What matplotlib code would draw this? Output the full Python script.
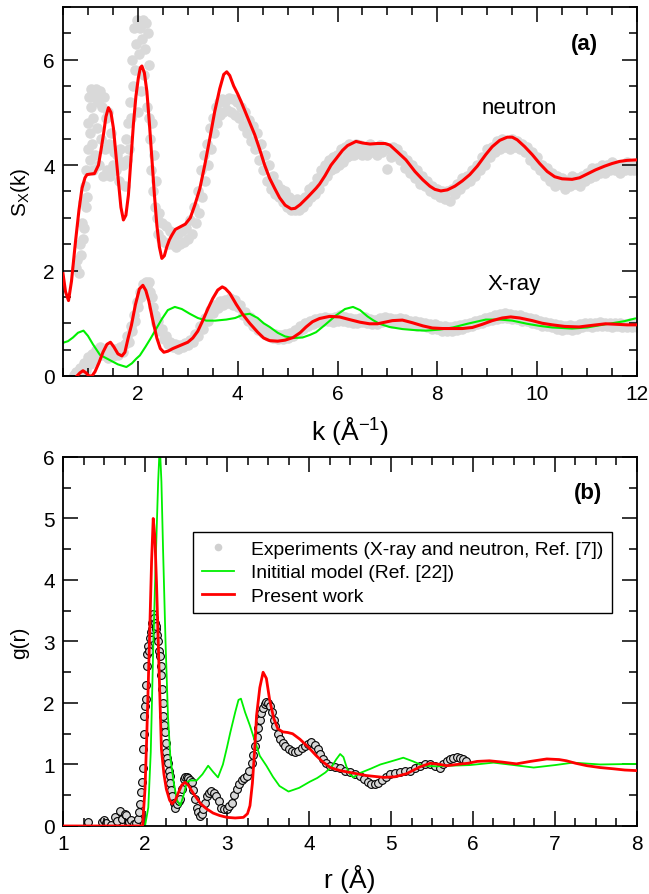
import numpy as np
import matplotlib
matplotlib.use('Agg')
import matplotlib.pyplot as plt
from matplotlib.lines import Line2D
from matplotlib.ticker import MultipleLocator

plt.rcParams['font.family'] = ['Liberation Sans', 'DejaVu Sans']
plt.rcParams['mathtext.fontset'] = 'custom'
plt.rcParams['mathtext.rm'] = 'Liberation Sans'
plt.rcParams['mathtext.it'] = 'Liberation Sans:italic'

RED = '#ff0000'
GREEN = '#00f000'
GREY = '#d9d9d9'

# ---------------------------------------------------------------------------
# (a) structure factors, (k, S) pairs
# ---------------------------------------------------------------------------
neutron_exp = [
    (0.76, 2.05), (0.79, 2.2), (0.82, 1.95), (0.84, 2.5), (0.86, 2.3), (0.88, 2.9),
    (0.90, 2.6), (0.91, 3.3), (0.93, 2.8), (0.94, 3.6), (0.96, 3.2), (0.97, 3.9),
    (0.99, 3.4), (1.00, 4.3), (1.01, 4.8), (1.02, 5.3), (1.04, 4.1), (1.05, 4.6),
    (1.06, 5.1), (1.07, 5.45), (1.09, 4.4), (1.10, 3.9), (1.11, 4.9), (1.13, 5.3),
    (1.15, 4.2), (1.17, 5.45), (1.19, 4.7), (1.21, 5.2), (1.23, 4.0), (1.25, 5.4),
    (1.27, 4.5), (1.29, 5.1), (1.31, 3.8), (1.33, 5.3), (1.35, 4.3), (1.37, 4.9),
    (1.39, 3.9), (1.41, 5.0), (1.43, 4.4), (1.45, 3.8), (1.47, 4.6), (1.50, 4.0),
    (1.53, 4.25), (1.56, 3.9), (1.59, 4.2), (1.62, 3.7), (1.65, 4.3), (1.68, 4.05),
    (1.71, 4.0), (1.74, 3.6), (1.77, 4.5), (1.79, 4.1), (1.81, 4.8), (1.83, 4.3),
    (1.85, 5.2), (1.87, 4.9), (1.89, 6.0), (1.91, 5.5), (1.92, 6.6), (1.94, 5.8),
    (1.96, 6.3), (1.98, 6.75), (2.00, 5.0), (2.02, 6.1), (2.04, 6.6), (2.06, 5.4),
    (2.08, 6.4), (2.10, 6.75), (2.12, 5.7), (2.14, 6.2), (2.16, 6.7), (2.18, 5.1),
    (2.20, 6.5), (2.22, 5.9), (2.23, 4.9), (2.25, 4.5), (2.27, 3.9), (2.29, 4.8),
    (2.31, 3.5), (2.33, 4.2), (2.35, 3.2), (2.37, 3.7), (2.39, 3.0), (2.41, 2.7),
    (2.43, 3.1), (2.46, 2.6), (2.49, 2.9), (2.52, 2.55), (2.56, 2.85), (2.60, 2.5),
    (2.64, 2.75), (2.68, 2.5), (2.72, 2.65), (2.76, 2.45), (2.80, 2.7), (2.84, 2.5),
    (2.88, 2.75), (2.92, 2.55), (2.96, 2.8), (3.00, 2.6), (3.04, 2.95), (3.08, 2.7),
    (3.12, 3.2), (3.16, 2.9), (3.20, 3.5), (3.23, 3.1), (3.26, 3.9), (3.29, 3.4),
    (3.32, 4.2), (3.35, 3.7), (3.38, 4.4), (3.41, 4.0), (3.44, 4.7), (3.47, 4.3),
    (3.50, 4.9), (3.53, 4.6), (3.56, 5.1), (3.59, 4.8), (3.62, 5.2), (3.65, 4.95),
    (3.68, 5.25), (3.71, 5.0), (3.74, 5.2), (3.78, 5.05), (3.82, 5.28), (3.86, 5.0),
    (3.90, 5.25), (3.94, 4.95), (3.98, 5.2), (4.02, 4.9), (4.06, 5.1), (4.10, 4.75),
    (4.14, 5.0), (4.18, 4.6), (4.22, 4.85), (4.26, 4.45), (4.30, 4.75), (4.34, 4.3),
    (4.38, 4.6), (4.42, 4.1), (4.46, 4.4), (4.50, 3.9), (4.54, 4.2), (4.58, 3.7),
    (4.62, 4.0), (4.66, 3.55), (4.70, 3.8), (4.74, 3.45), (4.78, 3.65), (4.82, 3.4),
    (4.86, 3.55), (4.90, 3.3), (4.94, 3.5), (4.98, 3.2), (5.02, 3.4), (5.06, 3.15),
    (5.10, 3.3), (5.14, 3.15), (5.18, 3.35), (5.22, 3.15), (5.26, 3.3), (5.30, 3.2),
    (5.34, 3.4), (5.38, 3.3), (5.42, 3.55), (5.46, 3.4), (5.50, 3.6), (5.54, 3.45),
    (5.58, 3.75), (5.62, 3.55), (5.66, 3.9), (5.70, 3.7), (5.74, 4.0), (5.78, 3.8),
    (5.82, 4.1), (5.86, 3.9), (5.90, 4.15), (5.94, 3.95), (5.98, 4.2), (6.02, 4.0),
    (6.06, 4.3), (6.10, 4.05), (6.14, 4.35), (6.18, 4.15), (6.22, 4.4), (6.26, 4.2),
    (6.30, 4.35), (6.34, 4.2), (6.38, 4.4), (6.42, 4.25), (6.46, 4.38), (6.50, 4.2),
    (6.55, 4.35), (6.60, 4.2), (6.65, 4.4), (6.70, 4.25), (6.75, 4.35), (6.80, 4.2),
    (6.85, 4.38), (6.90, 4.25), (6.95, 4.35), (7.00, 3.92), (7.04, 4.3), (7.08, 4.15),
    (7.12, 4.35), (7.16, 4.2), (7.20, 4.3), (7.25, 4.1), (7.30, 4.2), (7.35, 3.95),
    (7.40, 4.1), (7.45, 3.85), (7.50, 4.0), (7.55, 3.75), (7.60, 3.9), (7.65, 3.65),
    (7.70, 3.8), (7.75, 3.6), (7.80, 3.7), (7.85, 3.5), (7.90, 3.6), (7.95, 3.45),
    (8.00, 3.55), (8.05, 3.4), (8.10, 3.5), (8.15, 3.35), (8.20, 3.5), (8.25, 3.32),
    (8.30, 3.55), (8.35, 3.45), (8.40, 3.65), (8.45, 3.55), (8.50, 3.75), (8.55, 3.65),
    (8.60, 3.8), (8.65, 3.7), (8.70, 3.9), (8.75, 3.8), (8.80, 4.0), (8.85, 3.9),
    (8.90, 4.15), (8.95, 4.0), (9.00, 4.3), (9.05, 4.15), (9.10, 4.35), (9.15, 4.25),
    (9.20, 4.45), (9.25, 4.3), (9.30, 4.5), (9.35, 4.35), (9.40, 4.45), (9.45, 4.3),
    (9.50, 4.5), (9.55, 4.35), (9.60, 4.45), (9.65, 4.3), (9.70, 4.4), (9.75, 4.25),
    (9.80, 4.35), (9.85, 4.1), (9.90, 4.25), (9.95, 4.0), (10.00, 4.15), (10.05, 3.9),
    (10.10, 4.0), (10.15, 3.8), (10.20, 3.95), (10.25, 3.7), (10.30, 3.85), (10.35, 3.6),
    (10.40, 3.8), (10.45, 3.65), (10.50, 3.75), (10.55, 3.55), (10.60, 3.7), (10.65, 3.6),
    (10.70, 3.8), (10.75, 3.65), (10.80, 3.75), (10.85, 3.6), (10.90, 3.8), (10.95, 3.7),
    (11.00, 3.85), (11.05, 3.75), (11.10, 3.95), (11.15, 3.8), (11.20, 3.95), (11.25, 3.85),
    (11.30, 4.0), (11.35, 3.85), (11.40, 4.0), (11.45, 3.9), (11.50, 4.05), (11.55, 3.9),
    (11.60, 4.0), (11.65, 3.85), (11.70, 4.0), (11.75, 3.9), (11.80, 4.05), (11.85, 3.9),
    (11.90, 4.0), (11.95, 3.9),
]

xray_exp = [
    (0.72, 0.02), (0.76, 0.08), (0.80, 0.0), (0.84, 0.15), (0.88, 0.05), (0.92, 0.25),
    (0.96, 0.12), (1.00, 0.36), (1.04, 0.22), (1.08, 0.42), (1.12, 0.3), (1.16, 0.5),
    (1.20, 0.38), (1.25, 0.55), (1.30, 0.4), (1.35, 0.52), (1.40, 0.35), (1.45, 0.5),
    (1.50, 0.38), (1.55, 0.52), (1.60, 0.4), (1.65, 0.55), (1.70, 0.45), (1.75, 0.6),
    (1.79, 0.75), (1.83, 0.65), (1.86, 0.95), (1.89, 0.85), (1.92, 1.15), (1.95, 1.05),
    (1.98, 1.4), (2.01, 1.3), (2.04, 1.6), (2.07, 1.5), (2.10, 1.75), (2.13, 1.62),
    (2.16, 1.78), (2.19, 1.7), (2.22, 1.78), (2.25, 1.6), (2.28, 1.5), (2.31, 1.3),
    (2.34, 1.15), (2.37, 1.0), (2.40, 1.05), (2.44, 0.85), (2.48, 0.9), (2.52, 0.7),
    (2.56, 0.75), (2.60, 0.6), (2.65, 0.65), (2.70, 0.55), (2.75, 0.6), (2.80, 0.52),
    (2.85, 0.58), (2.90, 0.55), (2.95, 0.62), (3.00, 0.58), (3.05, 0.68), (3.10, 0.65),
    (3.15, 0.8), (3.20, 0.75), (3.25, 0.95), (3.30, 0.9), (3.35, 1.1), (3.40, 1.05),
    (3.45, 1.25), (3.50, 1.2), (3.55, 1.35), (3.60, 1.28), (3.65, 1.42), (3.70, 1.35),
    (3.75, 1.45), (3.80, 1.38), (3.85, 1.48), (3.90, 1.35), (3.95, 1.45), (4.00, 1.3),
    (4.05, 1.35), (4.10, 1.15), (4.15, 1.22), (4.20, 1.05), (4.25, 1.12), (4.30, 0.95),
    (4.35, 1.0), (4.40, 0.88), (4.45, 0.95), (4.50, 0.82), (4.55, 0.88), (4.60, 0.75),
    (4.65, 0.82), (4.70, 0.72), (4.75, 0.8), (4.80, 0.7), (4.85, 0.78), (4.90, 0.7),
    (4.95, 0.8), (5.00, 0.72), (5.05, 0.82), (5.10, 0.75), (5.15, 0.88), (5.20, 0.82),
    (5.25, 0.95), (5.30, 0.9), (5.35, 1.0), (5.40, 0.95), (5.45, 1.05), (5.50, 0.98),
    (5.55, 1.08), (5.60, 1.02), (5.65, 1.1), (5.70, 1.05), (5.75, 1.12), (5.80, 1.05),
    (5.85, 1.1), (5.90, 1.02), (5.95, 1.12), (6.00, 1.05), (6.05, 1.15), (6.10, 1.05),
    (6.15, 1.12), (6.20, 1.02), (6.25, 1.1), (6.30, 1.0), (6.35, 1.08), (6.40, 1.0),
    (6.45, 1.1), (6.50, 1.02), (6.55, 1.12), (6.60, 1.0), (6.65, 1.08), (6.70, 0.98),
    (6.75, 1.06), (6.80, 0.98), (6.85, 1.1), (6.90, 1.02), (6.95, 1.12), (7.00, 1.04),
    (7.05, 1.1), (7.10, 1.0), (7.15, 1.08), (7.20, 1.02), (7.25, 1.1), (7.30, 1.0),
    (7.35, 1.08), (7.40, 0.98), (7.45, 1.05), (7.50, 0.96), (7.55, 1.04), (7.60, 0.95),
    (7.65, 1.02), (7.70, 0.94), (7.75, 1.0), (7.80, 0.92), (7.85, 0.98), (7.90, 0.9),
    (7.95, 0.98), (8.00, 0.9), (8.05, 0.95), (8.10, 0.86), (8.15, 0.94), (8.20, 0.85),
    (8.25, 0.92), (8.30, 0.86), (8.35, 0.95), (8.40, 0.88), (8.45, 0.96), (8.50, 0.9),
    (8.55, 0.98), (8.60, 0.92), (8.65, 1.0), (8.70, 0.95), (8.75, 1.04), (8.80, 0.98),
    (8.85, 1.06), (8.90, 1.0), (8.95, 1.1), (9.00, 1.04), (9.05, 1.12), (9.10, 1.06),
    (9.15, 1.15), (9.20, 1.08), (9.25, 1.18), (9.30, 1.1), (9.35, 1.2), (9.40, 1.1),
    (9.45, 1.18), (9.50, 1.08), (9.55, 1.16), (9.60, 1.08), (9.65, 1.15), (9.70, 1.05),
    (9.75, 1.12), (9.80, 1.04), (9.85, 1.1), (9.90, 1.0), (9.95, 1.08), (10.00, 0.98),
    (10.05, 1.05), (10.10, 0.95), (10.15, 1.02), (10.20, 0.94), (10.25, 1.0), (10.30, 0.92),
    (10.35, 0.98), (10.40, 0.9), (10.45, 0.96), (10.50, 0.88), (10.55, 0.95), (10.60, 0.9),
    (10.65, 0.96), (10.70, 0.88), (10.75, 0.95), (10.80, 0.9), (10.85, 0.98), (10.90, 0.92),
    (10.95, 1.0), (11.00, 0.94), (11.05, 1.0), (11.10, 0.93), (11.15, 1.0), (11.20, 0.94),
    (11.25, 1.02), (11.30, 0.95), (11.35, 1.0), (11.40, 0.94), (11.45, 1.0), (11.50, 0.93),
    (11.55, 1.0), (11.60, 0.94), (11.65, 1.0), (11.70, 0.92), (11.75, 0.98), (11.80, 0.93),
    (11.85, 1.0), (11.90, 0.92), (11.95, 0.97), (12.00, 0.93),
]

neutron_fit = [
    (0.50, 1.94), (0.55, 1.6), (0.61, 1.43), (0.67, 1.8), (0.75, 2.55), (0.82, 3.15),
    (0.88, 3.56), (0.94, 3.76), (0.98, 3.82), (1.05, 3.83), (1.13, 3.84), (1.21, 4.0),
    (1.26, 4.28), (1.31, 4.58), (1.36, 4.92), (1.41, 5.09), (1.46, 5.0), (1.51, 4.7),
    (1.56, 4.2), (1.61, 3.69), (1.66, 3.2), (1.71, 2.96), (1.76, 3.05), (1.81, 3.43),
    (1.86, 4.1), (1.91, 4.77), (1.96, 5.3), (2.01, 5.66), (2.05, 5.85), (2.08, 5.88),
    (2.13, 5.75), (2.18, 5.4), (2.23, 4.8), (2.28, 4.13), (2.33, 3.45), (2.38, 2.86),
    (2.43, 2.45), (2.48, 2.23), (2.53, 2.28), (2.58, 2.45), (2.63, 2.58), (2.68, 2.67),
    (2.75, 2.78), (2.85, 2.83), (2.95, 2.88), (3.05, 3.0), (3.14, 3.24), (3.24, 3.55),
    (3.34, 4.0), (3.44, 4.5), (3.54, 5.02), (3.64, 5.45), (3.72, 5.72), (3.78, 5.77),
    (3.84, 5.7), (3.92, 5.5), (4.00, 5.35), (4.07, 5.2), (4.20, 4.9), (4.34, 4.58),
    (4.44, 4.3), (4.54, 4.0), (4.64, 3.75), (4.74, 3.56), (4.84, 3.38), (4.95, 3.24),
    (5.07, 3.17), (5.15, 3.18), (5.25, 3.25), (5.41, 3.4), (5.57, 3.56), (5.64, 3.64),
    (5.75, 3.8), (5.87, 4.0), (5.97, 4.12), (6.10, 4.28), (6.20, 4.37), (6.37, 4.45),
    (6.50, 4.42), (6.65, 4.40), (6.80, 4.41), (6.95, 4.41), (7.05, 4.38), (7.20, 4.25),
    (7.37, 4.1), (7.55, 3.88), (7.71, 3.72), (7.85, 3.6), (7.95, 3.54), (8.07, 3.51),
    (8.20, 3.53), (8.35, 3.6), (8.50, 3.7), (8.65, 3.82), (8.80, 3.98), (8.97, 4.2),
    (9.10, 4.35), (9.25, 4.47), (9.40, 4.53), (9.50, 4.53), (9.60, 4.48), (9.75, 4.35),
    (9.90, 4.2), (10.05, 4.03), (10.20, 3.88), (10.35, 3.78), (10.50, 3.74), (10.70, 3.73),
    (10.85, 3.76), (11.00, 3.83), (11.17, 3.91), (11.35, 3.98), (11.50, 4.03), (11.65, 4.07),
    (11.80, 4.09), (12.00, 4.1),
]

xray_fit = [
    (0.78, 0.0), (0.84, 0.06), (0.90, 0.1), (0.96, 0.06), (1.02, 0.0), (1.08, 0.0),
    (1.14, 0.08), (1.22, 0.25), (1.30, 0.45), (1.38, 0.6), (1.45, 0.64), (1.52, 0.55),
    (1.60, 0.42), (1.68, 0.38), (1.74, 0.45), (1.80, 0.7), (1.87, 0.96), (1.95, 1.35),
    (2.03, 1.65), (2.10, 1.72), (2.16, 1.62), (2.22, 1.42), (2.30, 1.05), (2.38, 0.72),
    (2.45, 0.52), (2.52, 0.45), (2.60, 0.47), (2.70, 0.52), (2.80, 0.56), (2.90, 0.6),
    (3.00, 0.64), (3.10, 0.72), (3.20, 0.85), (3.30, 1.05), (3.40, 1.27), (3.50, 1.47),
    (3.60, 1.63), (3.69, 1.69), (3.75, 1.66), (3.84, 1.57), (3.97, 1.36), (4.10, 1.17),
    (4.24, 1.0), (4.40, 0.83), (4.52, 0.72), (4.64, 0.67), (4.80, 0.66), (4.95, 0.68),
    (5.11, 0.73), (5.25, 0.82), (5.37, 0.93), (5.50, 1.03), (5.64, 1.09), (5.84, 1.13),
    (6.04, 1.12), (6.24, 1.07), (6.45, 1.02), (6.64, 0.99), (6.80, 0.99), (6.95, 1.02),
    (7.10, 1.05), (7.30, 1.06), (7.50, 1.01), (7.71, 0.95), (7.90, 0.91), (8.10, 0.9),
    (8.31, 0.9), (8.50, 0.9), (8.70, 0.92), (8.90, 0.98), (9.10, 1.05), (9.30, 1.1),
    (9.47, 1.12), (9.65, 1.1), (9.90, 1.05), (10.10, 1.0), (10.30, 0.97), (10.55, 0.94),
    (10.84, 0.93), (11.10, 0.96), (11.37, 0.99), (11.60, 0.98), (11.80, 0.97), (12.00, 0.97),
]

xray_initial = [
    (0.50, 0.63), (0.60, 0.66), (0.70, 0.73), (0.80, 0.82), (0.91, 0.86), (1.00, 0.76),
    (1.10, 0.6), (1.24, 0.4), (1.44, 0.3), (1.60, 0.22), (1.77, 0.17), (1.88, 0.24),
    (1.97, 0.33), (2.04, 0.39), (2.15, 0.55), (2.26, 0.72), (2.37, 0.9), (2.48, 1.08),
    (2.60, 1.25), (2.74, 1.31), (2.88, 1.27), (3.04, 1.18), (3.20, 1.1), (3.37, 1.05),
    (3.55, 1.05), (3.77, 1.07), (3.95, 1.1), (4.10, 1.16), (4.24, 1.18), (4.40, 1.1),
    (4.52, 1.0), (4.64, 0.93), (4.80, 0.82), (4.95, 0.75), (5.11, 0.72), (5.30, 0.73),
    (5.45, 0.78), (5.57, 0.83), (5.75, 0.97), (5.97, 1.15), (6.15, 1.27), (6.31, 1.31),
    (6.45, 1.25), (6.60, 1.13), (6.71, 1.06), (6.84, 0.99), (7.04, 0.93), (7.30, 0.89),
    (7.55, 0.87), (7.77, 0.86), (8.05, 0.88), (8.31, 0.92), (8.60, 0.99), (8.97, 1.07),
    (9.25, 1.07), (9.50, 1.05), (9.80, 0.99), (10.05, 0.95), (10.30, 0.92), (10.70, 0.9),
    (11.00, 0.92), (11.24, 0.96), (11.50, 1.0), (11.75, 1.04), (11.96, 1.09),
]

# ---------------------------------------------------------------------------
# (b) pair distribution functions, (r, g) pairs
# ---------------------------------------------------------------------------
gr_exp = [
    (1.30, 0.06), (1.47, 0.07), (1.50, 0.1), (1.53, 0.05), (1.58, 0.02), (1.63, 0.14),
    (1.66, 0.08), (1.69, 0.25), (1.72, 0.12), (1.75, 0.2), (1.77, 0.18), (1.80, 0.06),
    (1.83, 0.1), (1.86, 0.03), (1.89, 0.05), (1.92, 0.11), (1.93, 0.22), (1.94, 0.36),
    (1.95, 0.55), (1.96, 0.71), (1.97, 0.95), (1.98, 1.25), (1.985, 1.5), (1.99, 1.79),
    (2.00, 1.95), (2.01, 2.06), (2.015, 2.3), (2.02, 2.6), (2.03, 2.8), (2.04, 2.93),
    (2.05, 2.85), (2.06, 3.05), (2.07, 3.15), (2.08, 3.2), (2.09, 3.3), (2.10, 3.45),
    (2.11, 3.38), (2.12, 3.3), (2.13, 3.2), (2.14, 3.25), (2.15, 3.1), (2.16, 3.0),
    (2.17, 2.85), (2.18, 2.77), (2.19, 2.6), (2.20, 2.45), (2.21, 2.23), (2.215, 2.0),
    (2.22, 1.79), (2.23, 1.65), (2.24, 1.52), (2.25, 1.35), (2.26, 1.2), (2.27, 1.1),
    (2.28, 1.03), (2.29, 0.9), (2.30, 0.82), (2.31, 0.7), (2.32, 0.58), (2.33, 0.49),
    (2.35, 0.38), (2.37, 0.3), (2.39, 0.35), (2.41, 0.4), (2.43, 0.44), (2.45, 0.6),
    (2.47, 0.76), (2.49, 0.8), (2.51, 0.79), (2.53, 0.78), (2.55, 0.75), (2.57, 0.71),
    (2.59, 0.58), (2.61, 0.44), (2.63, 0.3), (2.65, 0.22), (2.67, 0.17), (2.69, 0.2),
    (2.71, 0.28), (2.73, 0.38), (2.75, 0.49), (2.78, 0.54), (2.81, 0.57), (2.84, 0.54),
    (2.87, 0.49), (2.90, 0.4), (2.93, 0.3), (2.96, 0.27), (3.00, 0.28), (3.03, 0.32),
    (3.06, 0.38), (3.09, 0.5), (3.12, 0.6), (3.15, 0.68), (3.18, 0.74), (3.21, 0.78),
    (3.24, 0.82), (3.27, 0.9), (3.30, 1.03), (3.32, 1.15), (3.34, 1.3), (3.36, 1.45),
    (3.38, 1.6), (3.40, 1.72), (3.42, 1.83), (3.44, 1.92), (3.46, 1.99), (3.48, 2.02),
    (3.50, 2.0), (3.52, 1.95), (3.55, 1.85), (3.57, 1.72), (3.59, 1.62), (3.62, 1.5),
    (3.65, 1.41), (3.68, 1.35), (3.71, 1.3), (3.75, 1.25), (3.79, 1.22), (3.83, 1.2),
    (3.87, 1.22), (3.91, 1.27), (3.95, 1.3), (3.99, 1.34), (4.03, 1.36), (4.07, 1.32),
    (4.11, 1.25), (4.14, 1.17), (4.17, 1.09), (4.21, 1.02), (4.26, 0.98), (4.32, 0.96),
    (4.38, 0.94), (4.44, 0.9), (4.50, 0.87), (4.56, 0.85), (4.62, 0.82), (4.67, 0.76),
    (4.72, 0.72), (4.76, 0.69), (4.80, 0.68), (4.84, 0.7), (4.89, 0.74), (4.94, 0.8),
    (4.99, 0.85), (5.05, 0.86), (5.11, 0.87), (5.17, 0.89), (5.23, 0.9), (5.29, 0.94),
    (5.35, 0.98), (5.41, 1.0), (5.48, 1.0), (5.54, 0.97), (5.60, 0.95), (5.64, 1.0),
    (5.68, 1.06), (5.72, 1.09), (5.76, 1.11), (5.80, 1.12), (5.84, 1.11), (5.88, 1.09),
    (5.92, 1.06),
]

gr_initial = [
    (1.00, 0.0), (2.00, 0.0), (2.04, 0.3), (2.07, 1.2), (2.10, 2.88), (2.13, 4.3),
    (2.16, 5.59), (2.18, 6.2), (2.20, 5.6), (2.22, 4.5), (2.25, 3.0), (2.28, 1.79),
    (2.31, 1.1), (2.35, 0.71), (2.39, 0.42), (2.43, 0.33), (2.47, 0.5), (2.51, 0.71),
    (2.55, 0.74), (2.63, 0.74), (2.70, 0.84), (2.77, 0.98), (2.83, 0.88), (2.89, 0.79),
    (2.95, 1.0), (3.00, 1.28), (3.04, 1.52), (3.10, 1.85), (3.14, 2.05), (3.17, 2.07),
    (3.22, 1.85), (3.28, 1.63), (3.34, 1.38), (3.40, 1.14), (3.48, 0.98), (3.56, 0.8),
    (3.64, 0.65), (3.75, 0.56), (3.88, 0.62), (4.01, 0.72), (4.10, 0.78), (4.20, 0.87),
    (4.28, 0.97), (4.33, 1.08), (4.38, 1.17), (4.42, 1.12), (4.46, 0.95), (4.50, 0.84),
    (4.54, 0.79), (4.62, 0.86), (4.75, 0.93), (4.87, 1.0), (5.00, 1.05), (5.15, 1.11),
    (5.27, 1.05), (5.39, 0.98), (5.55, 0.97), (5.72, 0.98), (5.96, 0.99), (6.25, 1.03),
    (6.50, 0.99), (6.74, 0.95), (7.00, 0.99), (7.22, 1.03), (7.55, 1.0), (8.00, 1.01),
]

gr_present = [
    (1.00, 0.0), (1.50, 0.0), (1.97, 0.0), (2.00, 0.6), (2.02, 1.4), (2.04, 2.33),
    (2.06, 3.3), (2.08, 4.3), (2.10, 5.0), (2.12, 4.7), (2.14, 3.96), (2.17, 2.6),
    (2.20, 1.25), (2.23, 0.85), (2.26, 0.6), (2.30, 0.42), (2.33, 0.36), (2.37, 0.42),
    (2.41, 0.55), (2.45, 0.67), (2.49, 0.71), (2.53, 0.66), (2.57, 0.57), (2.61, 0.49),
    (2.68, 0.36), (2.75, 0.28), (2.83, 0.21), (2.91, 0.17), (3.00, 0.14), (3.10, 0.13),
    (3.20, 0.14), (3.25, 0.2), (3.28, 0.33), (3.31, 0.7), (3.34, 1.3), (3.36, 1.79),
    (3.40, 2.25), (3.44, 2.5), (3.48, 2.4), (3.52, 2.05), (3.57, 1.75), (3.62, 1.58),
    (3.68, 1.53), (3.74, 1.52), (3.80, 1.5), (3.89, 1.41), (4.00, 1.27), (4.09, 1.14),
    (4.17, 1.04), (4.26, 0.95), (4.38, 0.9), (4.50, 0.87), (4.70, 0.82), (4.91, 0.79),
    (5.05, 0.8), (5.19, 0.85), (5.35, 0.96), (5.48, 1.02), (5.60, 1.0), (5.68, 0.98),
    (5.80, 1.0), (5.94, 1.02), (6.05, 1.05), (6.20, 1.06), (6.35, 1.04), (6.53, 1.01),
    (6.70, 1.05), (6.90, 1.09), (7.05, 1.08), (7.14, 1.06), (7.25, 1.02), (7.39, 0.98),
    (7.55, 0.95), (7.71, 0.93), (7.85, 0.91), (8.00, 0.9),
]


def xy(pairs):
    arr = np.array(pairs, dtype=float)
    return arr[:, 0], arr[:, 1]


def style_axes(ax, xmaj, xmin, ymaj, ymin):
    ax.xaxis.set_major_locator(MultipleLocator(xmaj))
    ax.xaxis.set_minor_locator(MultipleLocator(xmin))
    ax.yaxis.set_major_locator(MultipleLocator(ymaj))
    ax.yaxis.set_minor_locator(MultipleLocator(ymin))
    ax.tick_params(which='both', direction='in', top=True, right=True,
                   width=1.1, labelsize=15, pad=6)
    ax.tick_params(which='major', length=11)
    ax.tick_params(which='minor', length=5.5)
    for sp in ax.spines.values():
        sp.set_linewidth(1.3)


fig = plt.figure(figsize=(6.49, 8.95), dpi=100)
ax1 = fig.add_axes([0.0971, 0.5788, 0.8844, 0.4123])
ax2 = fig.add_axes([0.0971, 0.0760, 0.8844, 0.4123])

# --- (a) S(k) ---
for pairs in (neutron_exp, xray_exp):
    k, s = xy(pairs)
    ax1.plot(k, s, 'o', ls='none', ms=7.6, color=GREY, mec='none', zorder=1)

k, s = xy(xray_initial)
ax1.plot(k, s, color=GREEN, lw=1.5, zorder=2)
for pairs in (xray_fit, neutron_fit):
    k, s = xy(pairs)
    ax1.plot(k, s, color=RED, lw=2.2, solid_joinstyle='round', zorder=3)

ax1.set_xlim(0.5, 12)
ax1.set_ylim(0, 7)
style_axes(ax1, 2, 0.5, 2, 0.5)
ax1.set_xlabel('k (Å$\\mathregular{^{-1}}$)', fontsize=19, labelpad=8)
ax1.set_ylabel('S$_\\mathregular{X}$(k)', fontsize=15, labelpad=8)
ax1.text(0.909, 0.90, '(a)', transform=ax1.transAxes, fontsize=16,
         fontweight='bold', ha='center', va='center')
ax1.text(9.64, 5.09, 'neutron', fontsize=16, ha='center', va='center')
ax1.text(9.54, 1.75, 'X-ray', fontsize=16, ha='center', va='center')

# --- (b) g(r) ---
r, g = xy(gr_exp)
ax2.plot(r, g, 'o', ls='none', ms=5.6, mfc='#d8d8d8', mec='black', mew=0.8,
         zorder=1)
r, g = xy(gr_initial)
ax2.plot(r, g, color=GREEN, lw=1.3, zorder=2)
r, g = xy(gr_present)
ax2.plot(r, g, color=RED, lw=2.0, solid_joinstyle='round', zorder=3)

ax2.set_xlim(1, 8)
ax2.set_ylim(0, 6)
style_axes(ax2, 1, 0.25, 1, 0.5)
ax2.set_xlabel('r (Å)', fontsize=19, labelpad=8)
ax2.set_ylabel('g(r)', fontsize=15, labelpad=10)
ax2.text(0.914, 0.905, '(b)', transform=ax2.transAxes, fontsize=16,
         fontweight='bold', ha='center', va='center')

handles = [
    Line2D([], [], ls='none', marker='o', ms=5.5, color='#d0d0d0', mec='none'),
    Line2D([], [], color=GREEN, lw=1.3),
    Line2D([], [], color=RED, lw=2.0),
]
labels = ['Experiments (X-ray and neutron, Ref. [7])',
          'Inititial model (Ref. [22])',
          'Present work']
leg = ax2.legend(handles, labels, loc='upper left', bbox_to_anchor=(0.2265, 0.797),
                 fontsize=13.9, frameon=True, fancybox=False, framealpha=1,
                 edgecolor='black', handlelength=1.65, handletextpad=0.9,
                 labelspacing=0.3, borderpad=0.45, borderaxespad=0)
leg.get_frame().set_linewidth(1.0)

fig.savefig('out.png', dpi=100)
